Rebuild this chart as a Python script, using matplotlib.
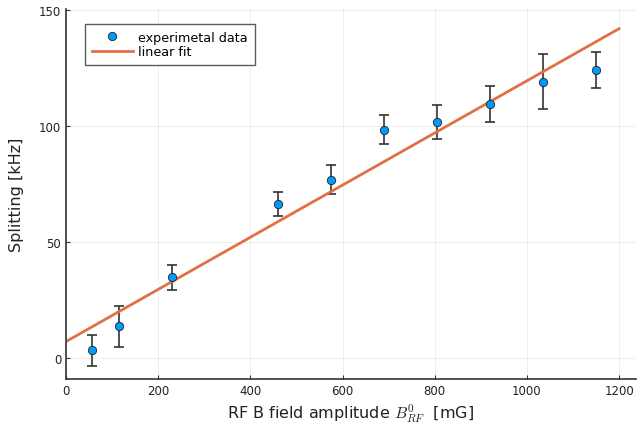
import matplotlib.pyplot as plt
import numpy as np

plt.rcParams["mathtext.fontset"] = "cm"

# data
b_field = [57.5, 115, 230, 460, 575, 690, 805, 920, 1035, 1150]
splitting = [3.1, 13.5, 34.6, 66.2, 76.7, 98.3, 101.6, 109.3, 119.0, 124.0]
split_err = [6.8, 8.8, 5.3, 5.25, 6.4, 6.2, 7.3, 7.6, 12.0, 7.7]
fit_intercept = 6.9
fit_slope = 0.1124

fig = plt.figure(figsize=(6.37, 4.31), dpi=100)
ax = fig.add_axes([0.1036, 0.118, 0.895, 0.859])

xfit = np.linspace(0, 1200, 50)
ax.errorbar(b_field, splitting, yerr=split_err, fmt="none", ecolor="#333333",
            elinewidth=1.2, capsize=3.5, capthick=1.2, zorder=2)
ax.plot(b_field, splitting, "o", color="#009AFA", markeredgecolor="#222222",
        markeredgewidth=0.6, markersize=6, label="experimetal data", zorder=3)
ax.plot(xfit, fit_intercept + fit_slope * xfit, color="#E26F46", lw=2,
        label="linear fit", zorder=2.5)

ax.set_xlim(0, 1237)
ax.set_ylim(-9.3, 150.3)
ax.set_xticks([0, 200, 400, 600, 800, 1000, 1200])
ax.set_yticks([0, 50, 100, 150])
ax.grid(True, color="#000000", alpha=0.08, lw=0.6)
for s in ["top", "right"]:
    ax.spines[s].set_visible(False)
for s in ["left", "bottom"]:
    ax.spines[s].set_color("#333333")
    ax.spines[s].set_linewidth(1.2)
ax.tick_params(labelsize=8.5, color="#333333", length=3, direction="in",
               labelcolor="#222222")
ax.set_xlabel(r"RF B field amplitude $B^0_{RF}$  [mG]", fontsize=11.5,
              color="#222222", labelpad=3)
ax.set_ylabel("Splitting [kHz]", fontsize=11.5, color="#222222", labelpad=11)

leg = ax.legend(loc="upper left", bbox_to_anchor=(0.033, 0.96), fontsize=9.2,
                fancybox=False, edgecolor="#333333", borderpad=0.55,
                handlelength=3.2, handletextpad=0.45, labelspacing=0.12,
                borderaxespad=0)
leg.get_frame().set_linewidth(1.0)

fig.savefig("out.png", dpi=100)
